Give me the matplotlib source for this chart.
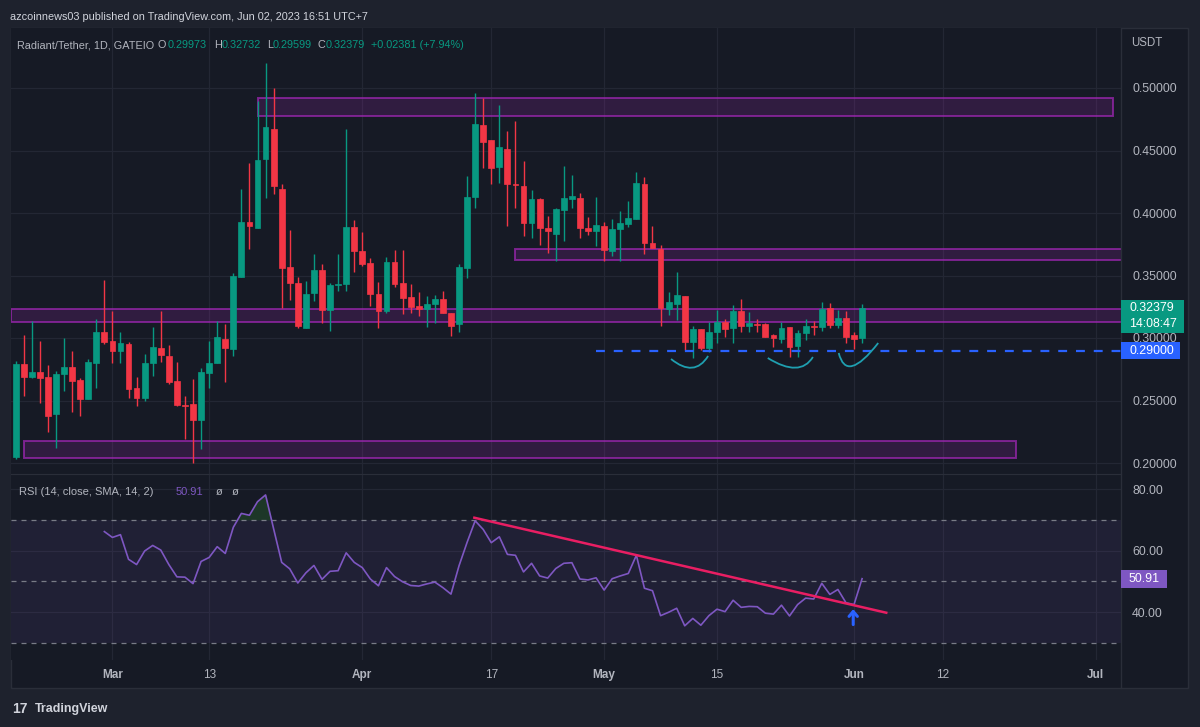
import matplotlib.pyplot as plt
import matplotlib.patches as patches
from matplotlib.path import Path
import numpy as np
import pandas as pd

# 数据（从截图上读出的近似值）
start_date = '2023-02-17'
open_ = [0.2051, 0.2792, 0.2685, 0.2725, 0.2685, 0.2389, 0.2709, 0.2765, 0.2664, 0.2509,
         0.2803, 0.3045, 0.2976, 0.2896, 0.2955, 0.2603, 0.2523, 0.2797, 0.2917, 0.2859,
         0.2656, 0.2464, 0.2470, 0.2344, 0.2717, 0.2797, 0.2995, 0.2909, 0.3491, 0.3925,
         0.3883, 0.4430, 0.4672, 0.4189, 0.3565, 0.3437, 0.3083, 0.3357, 0.3544, 0.3224,
         0.3424, 0.3432, 0.3891, 0.3699, 0.3597, 0.3355, 0.3216, 0.3611, 0.3437, 0.3325,
         0.3256, 0.3232, 0.3269, 0.3309, 0.3203, 0.3112, 0.3563, 0.4131, 0.4704, 0.4584,
         0.4368, 0.4515, 0.4227, 0.4216, 0.3923, 0.4109, 0.3883, 0.3832, 0.4024, 0.4112,
         0.4123, 0.3880, 0.3859, 0.3896, 0.3696, 0.3872, 0.3912, 0.3949, 0.4229, 0.3763,
         0.3712, 0.3232, 0.3275, 0.3336, 0.2965, 0.3069, 0.2917, 0.3051, 0.3128, 0.3077,
         0.3219, 0.3099, 0.3112, 0.3112, 0.3024, 0.2992, 0.3085, 0.2936, 0.3037, 0.3091,
         0.3085, 0.3237, 0.3104, 0.3157, 0.3024, 0.29973]
high = [0.2819, 0.3024, 0.3139, 0.2976, 0.2784, 0.2736, 0.3003, 0.2896, 0.2677, 0.2832,
        0.3152, 0.3464, 0.3219, 0.3045, 0.2965, 0.2691, 0.2869, 0.3091, 0.3219, 0.2944,
        0.2805, 0.2536, 0.2672, 0.2757, 0.2976, 0.3139, 0.3109, 0.3517, 0.4192, 0.4397,
        0.4896, 0.5197, 0.4997, 0.4229, 0.3864, 0.3490, 0.3456, 0.3669, 0.3590, 0.3437,
        0.3669, 0.4672, 0.3944, 0.3848, 0.3637, 0.3451, 0.3651, 0.3704, 0.3704, 0.3429,
        0.3371, 0.3339, 0.3344, 0.3376, 0.3203, 0.3589, 0.4299, 0.4957, 0.4917, 0.4584,
        0.4864, 0.4656, 0.4736, 0.4416, 0.4184, 0.4123, 0.3979, 0.4043, 0.4376, 0.4304,
        0.4157, 0.3971, 0.4128, 0.3931, 0.3952, 0.4016, 0.4096, 0.4331, 0.4285, 0.3899,
        0.3744, 0.3365, 0.3525, 0.3336, 0.3099, 0.3069, 0.3131, 0.3224, 0.3152, 0.3264,
        0.3309, 0.3211, 0.3152, 0.3117, 0.3032, 0.3131, 0.3085, 0.3064, 0.3149, 0.3139,
        0.3285, 0.3277, 0.3224, 0.3219, 0.3051, 0.32732]
low = [0.2029, 0.2539, 0.2680, 0.2483, 0.2251, 0.2123, 0.2579, 0.2411, 0.2379, 0.2509,
       0.2597, 0.2950, 0.2803, 0.2803, 0.2517, 0.2459, 0.2500, 0.2699, 0.2811, 0.2632,
       0.2459, 0.2192, 0.2003, 0.2109, 0.2597, 0.2797, 0.2645, 0.2856, 0.3491, 0.3712,
       0.3883, 0.4123, 0.4152, 0.3237, 0.3304, 0.3083, 0.3083, 0.3296, 0.3117, 0.3056,
       0.3376, 0.3376, 0.3525, 0.3576, 0.3259, 0.3077, 0.3203, 0.3411, 0.3189, 0.3203,
       0.3179, 0.3091, 0.3117, 0.3203, 0.3019, 0.3051, 0.3483, 0.4043, 0.4363, 0.4232,
       0.4243, 0.3899, 0.4043, 0.3816, 0.3803, 0.3744, 0.3683, 0.3616, 0.3779, 0.4037,
       0.3803, 0.3824, 0.3736, 0.3616, 0.3656, 0.3616, 0.3891, 0.3949, 0.3669, 0.3717,
       0.3099, 0.3184, 0.3144, 0.2904, 0.2843, 0.2904, 0.2891, 0.2957, 0.3011, 0.2963,
       0.3045, 0.3051, 0.3051, 0.3011, 0.2925, 0.2957, 0.2851, 0.2851, 0.2984, 0.3024,
       0.3059, 0.3077, 0.3077, 0.2957, 0.2912, 0.29599]
close = [0.2792, 0.2685, 0.2731, 0.2683, 0.2379, 0.2709, 0.2765, 0.2659, 0.2509, 0.2808,
         0.3045, 0.2971, 0.2896, 0.2963, 0.2592, 0.2523, 0.2797, 0.2925, 0.2864, 0.2651,
         0.2464, 0.2459, 0.2344, 0.2725, 0.2797, 0.3005, 0.2917, 0.3499, 0.3925, 0.3899,
         0.4427, 0.4685, 0.4216, 0.3557, 0.3437, 0.3099, 0.3355, 0.3544, 0.3224, 0.3424,
         0.3427, 0.3891, 0.3699, 0.3592, 0.3349, 0.3216, 0.3611, 0.3429, 0.3323, 0.3251,
         0.3232, 0.3272, 0.3309, 0.3203, 0.3099, 0.3571, 0.4128, 0.4709, 0.4571, 0.4363,
         0.4528, 0.4235, 0.4224, 0.3923, 0.4109, 0.3877, 0.3859, 0.4032, 0.4117, 0.4136,
         0.3877, 0.3856, 0.3904, 0.3704, 0.3872, 0.3917, 0.3957, 0.4237, 0.3757, 0.3717,
         0.3237, 0.3285, 0.3344, 0.2971, 0.3069, 0.2923, 0.3051, 0.3128, 0.3072, 0.3219,
         0.3099, 0.3117, 0.3107, 0.3011, 0.2997, 0.3083, 0.2930, 0.3037, 0.3096, 0.3085,
         0.3229, 0.3104, 0.3157, 0.3011, 0.2992, 0.32379]
change_text = '+0.02381 (+7.94%)'

# RSI 从第 11 根K线开始显示
rsi_start = 11
rsi = [66.2, 64.3, 65.2, 57.2, 55.5, 59.9, 61.7, 60.2, 55.5, 51.5,
       51.4, 49.3, 56.5, 57.8, 61.3, 59.1, 67.6, 72.1, 71.5, 75.9,
       78.1, 67.1, 56.2, 54.1, 49.5, 52.8, 55.2, 50.7, 53.3, 53.5,
       59.3, 56.2, 54.5, 50.8, 48.6, 54.5, 51.6, 49.9, 48.7, 48.5,
       49.2, 49.8, 48.0, 45.9, 55.1, 62.7, 69.7, 66.9, 62.6, 64.5,
       58.8, 58.5, 53.1, 55.9, 51.8, 51.1, 54.2, 55.9, 56.1, 50.8,
       50.5, 51.2, 47.2, 50.9, 51.8, 52.6, 58.5, 47.8, 47.0, 38.9,
       40.0, 41.3, 35.6, 38.0, 35.8, 38.9, 41.0, 40.2, 43.9, 41.6,
       41.9, 41.8, 39.7, 39.4, 42.3, 38.8, 42.5, 44.6, 44.3, 49.4,
       45.8, 47.4, 43.1, 42.5, 50.91]

# 水平区域 (起始K线, 结束K线, 下沿, 上沿)
zone_x0 = [30, 62, -0.6, 1]
zone_x1 = [136.1, 137.2, 137.2, 124.1]
zone_lo = [0.4778, 0.3624, 0.3126, 0.2042]
zone_hi = [0.4922, 0.3714, 0.3229, 0.2176]

support_price = 0.29
support_from = 72

# 三个弧线 (起点, 最低点, 终点)
arc_x = [[81.3, 83.9, 85.9], [93.3, 96.7, 98.9], [102.1, 103.8, 107.0]]
arc_y = [[0.2832, 0.2762, 0.2856], [0.2840, 0.2762, 0.2848], [0.2880, 0.2776, 0.2960]]

trend_x = [56.9, 108.0]
trend_y = [70.7, 39.85]
arrow_x = 103.9
arrow_y = [36.0, 41.0]

price_ticks = [0.20, 0.25, 0.30, 0.35, 0.40, 0.45, 0.50]
rsi_ticks = [40, 60, 80]
time_ticks = ['2023-03-01', '2023-03-13', '2023-04-01', '2023-04-17', '2023-05-01',
              '2023-05-15', '2023-06-01', '2023-06-12', '2023-07-01']
time_labels = ['Mar', '13', 'Apr', '17', 'May', '15', 'Jun', '12', 'Jul']

W, H = 1200, 727
BG_OUT = '#1e222d'
BG = '#161a25'
GRID = '#232734'
TXT = '#b2b5be'
GREEN = '#089981'
RED = '#f23645'
PURPLE = '#7e57c2'
FONT = 'Liberation Sans'


def fx(px):
    return px / W


def fy(py):
    return 1 - py / H


dates = pd.date_range(start_date, periods=len(close), freq='D')
x = np.arange(len(close))
tick_x = [(pd.Timestamp(d) - dates[0]).days for d in time_ticks]

fig = plt.figure(figsize=(W / 100, H / 100), dpi=100, facecolor=BG_OUT)

# 图表外框
fig.add_artist(patches.Rectangle((fx(11), fy(688)), fx(1188 - 11), (688 - 28) / H,
                                 transform=fig.transFigure, facecolor=BG,
                                 edgecolor='#2a2e39', lw=1, zorder=0))

xlim = (-0.58, 137.12)

# 主图
ax = fig.add_axes([fx(11), fy(474), fx(1121 - 11), (474 - 28) / H], facecolor=BG)
ax.set_xlim(*xlim)
ax.set_ylim(0.1912, 0.548)
for s in ax.spines.values():
    s.set_visible(False)
ax.set_xticks(tick_x)
ax.set_xticklabels([])
ax.tick_params(axis='x', length=0)
ax.yaxis.tick_right()
ax.set_yticks(price_ticks)
ax.set_yticklabels(['%.5f' % p for p in price_ticks])
ax.tick_params(axis='y', length=0, pad=8, labelsize=8.9, colors=TXT)
for lab in ax.get_yticklabels():
    lab.set_fontfamily(FONT)
ax.grid(True, color=GRID, lw=0.9)
ax.set_axisbelow(True)

# 区域
for x0, x1, lo, hi in zip(zone_x0, zone_x1, zone_lo, zone_hi):
    ax.add_patch(patches.Rectangle((x0, lo), x1 - x0, hi - lo, facecolor=(0.61, 0.15, 0.69, 0.2),
                                   edgecolor=(0.61, 0.15, 0.69, 0.75), lw=1.4, zorder=1))

# K线
o = np.array(open_)
c = np.array(close)
colors = [GREEN if cc >= oo else RED for oo, cc in zip(o, c)]
ax.vlines(x, low, high, colors=colors, lw=1, zorder=2)
body_lo = np.minimum(o, c)
body_h = np.maximum(np.abs(c - o), 0.0009)
ax.bar(x, body_h, bottom=body_lo, width=0.72, color=colors, edgecolor=colors, lw=0.5, zorder=3)

# 支撑线
ax.plot([support_from, xlim[1]], [support_price, support_price], color='#2962ff', lw=1.6,
        ls=(0, (4, 4)), zorder=4)

# 弧线
for ax_pts, ay_pts in zip(arc_x, arc_y):
    p0 = np.array([ax_pts[0], ay_pts[0]])
    pm = np.array([ax_pts[1], ay_pts[1]])
    p1 = np.array([ax_pts[2], ay_pts[2]])
    ctrl = 2 * pm - 0.5 * (p0 + p1)
    path = Path([p0, ctrl, p1], [Path.MOVETO, Path.CURVE3, Path.CURVE3])
    ax.add_patch(patches.PathPatch(path, facecolor='none', edgecolor='#1f9fb0', lw=1.3, zorder=5))

# RSI 面板
ax2 = fig.add_axes([fx(11), fy(660), fx(1121 - 11), (660 - 474) / H], facecolor=BG)
ax2.set_xlim(*xlim)
ax2.set_ylim(24.5, 84.9)
for s in ax2.spines.values():
    s.set_visible(False)
ax2.spines['top'].set_visible(True)
ax2.spines['top'].set_color('#2a2e39')
ax2.set_xticks(tick_x)
ax2.set_xticklabels([])
ax2.tick_params(axis='x', length=0)
ax2.yaxis.tick_right()
ax2.set_yticks(rsi_ticks)
ax2.set_yticklabels(['%.2f' % v for v in rsi_ticks])
ax2.tick_params(axis='y', length=0, pad=8, labelsize=8.9, colors=TXT)
for lab in ax2.get_yticklabels():
    lab.set_fontfamily(FONT)
ax2.grid(True, color=GRID, lw=0.9)
ax2.set_axisbelow(True)

ax2.axhspan(30, 70, color=PURPLE, alpha=0.1, lw=0)
for lvl in [70, 50, 30]:
    ax2.axhline(lvl, color='#787b86', lw=0.9, ls=(0, (4, 4)))

rx = x[rsi_start:]
rv = np.array(rsi)
ax2.fill_between(rx, 70, rv, where=rv > 70, interpolate=True, color='#2e7d32', alpha=0.3, lw=0)
ax2.plot(rx, rv, color=PURPLE, lw=1.2, zorder=3)
ax2.plot(trend_x, trend_y, color='#e91e63', lw=1.8, zorder=4)
ax2.annotate('', xy=(arrow_x, arrow_y[1]), xytext=(arrow_x, arrow_y[0]),
             arrowprops=dict(arrowstyle='->,head_length=0.35,head_width=0.3', color='#2962ff',
                             lw=2.2, shrinkA=0, shrinkB=0), zorder=5)

# 价格轴分隔线
fig.add_artist(plt.Line2D([fx(1121), fx(1121)], [fy(688), fy(28)], color='#2a2e39', lw=1))

# 时间轴标签
for tx, tl in zip(tick_x, time_labels):
    bold = not tl.isdigit()
    ax2.text(tx, -0.08, tl, transform=ax2.get_xaxis_transform(), ha='center', va='center',
             fontsize=8.5, color=TXT, fontweight='bold' if bold else 'normal', family=FONT)


# 右侧价格标签
def box_label(axis, value, top_off, bot_off, x1, color, lines, line_off):
    ypix = H - axis.transData.transform((0, value))[1]
    fig.add_artist(patches.Rectangle((fx(1121), fy(ypix + bot_off)), fx(x1 - 1121),
                                     (bot_off + top_off) / H, transform=fig.transFigure,
                                     facecolor=color, edgecolor='none', zorder=10))
    for t, off in zip(lines, line_off):
        fig.text(fx(1129), fy(ypix + off), t, ha='left', va='center', fontsize=8.9,
                 color='white', family=FONT, zorder=11)


box_label(ax, close[-1], 8.5, 24.5, 1184, GREEN, ['%.5f' % close[-1], '14:08:47'], [0, 15.5])
box_label(ax, support_price, 8.8, 8.8, 1180, '#2962ff', ['%.5f' % support_price], [0])
box_label(ax2, rsi[-1], 9, 9, 1167, PURPLE, ['%.2f' % rsi[-1]], [0])

fig.text(fx(1131), fy(43), 'USDT', fontsize=8.3, color=TXT, family=FONT, va='center')

# 顶部标题
fig.text(fx(10), fy(17), 'azcoinnews03 published on TradingView.com, Jun 02, 2023 16:51 UTC+7',
         fontsize=7.8, color='#d1d4dc', family=FONT, va='center')
head_y = fy(45)
fig.text(fx(17), head_y, 'Radiant/Tether, 1D, GATEIO', fontsize=7.8, color=TXT, family=FONT, va='center')
for lx, lt, vx, vt in [(157, 'O', 168, '%.5f' % open_[-1]), (214, 'H', 222, '%.5f' % high[-1]),
                       (267, 'L', 273, '%.5f' % low[-1]), (318, 'C', 326, '%.5f' % close[-1])]:
    fig.text(fx(lx), head_y, lt, fontsize=7.8, color=TXT, family=FONT, va='center')
    fig.text(fx(vx), head_y, vt, fontsize=7.8, color=GREEN, family=FONT, va='center')
fig.text(fx(371), head_y, change_text, fontsize=7.8, color=GREEN, family=FONT, va='center')

# RSI 标题
fig.text(fx(19), fy(492), 'RSI (14, close, SMA, 14, 2)', fontsize=8, color=TXT, family=FONT, va='center')
fig.text(fx(176), fy(492), '%.2f' % rsi[-1], fontsize=8, color=PURPLE, family=FONT, va='center')
fig.text(fx(216), fy(492), 'ø   ø', fontsize=8, color=TXT, family=FONT, va='center')

# 底部 TradingView 标志
fig.text(fx(12), fy(709), '17', fontsize=10, color='#d1d4dc', family=FONT, fontweight='bold', va='center')
fig.text(fx(35), fy(709), 'TradingView', fontsize=9, color='#d1d4dc', family=FONT, fontweight='bold', va='center')

fig.savefig('out.png', dpi=100, facecolor=BG_OUT)
